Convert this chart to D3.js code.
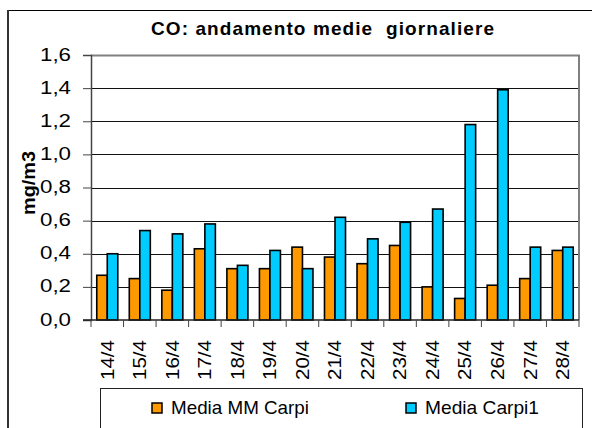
<!DOCTYPE html>
<html>
<head>
<meta charset="utf-8">
<script src="https://cdn.jsdelivr.net/npm/d3@7"></script>
<style>
  body { margin: 0; background: #fff; }
  svg { display: block; font-family: "Liberation Sans", Arial, sans-serif; }
</style>
</head>
<body>
<div id="chart"></div>
<script>
// data
const days = ["14/4","15/4","16/4","17/4","18/4","19/4","20/4","21/4","22/4","23/4","24/4","25/4","26/4","27/4","28/4"];
const mediaMMCarpi = [0.27,0.25,0.18,0.43,0.31,0.31,0.44,0.38,0.34,0.45,0.20,0.13,0.21,0.25,0.42];
const mediaCarpi1  = [0.40,0.54,0.52,0.58,0.33,0.42,0.31,0.62,0.49,0.59,0.67,1.18,1.39,0.44,0.44];
const seriesNames = ["Media MM Carpi","Media Carpi1"];
const seriesColors = ["#FF9900","#00CCFF"];
const yTicks = [0,0.2,0.4,0.6,0.8,1.0,1.2,1.4,1.6];

const W = 592, H = 428;
const plot = {left: 91, right: 579, top: 55, bottom: 320};

const svg = d3.select("#chart").append("svg")
    .attr("width", W)
    .attr("height", H);

// outer chart border
svg.append("line").attr("x1", 8).attr("x2", W).attr("y1", 10.5).attr("y2", 10.5)
    .attr("stroke", "#000").attr("stroke-width", 1);
svg.append("line").attr("x1", 8).attr("x2", 8).attr("y1", 10).attr("y2", H)
    .attr("stroke", "#333").attr("stroke-width", 2);

const xScale = d3.scaleBand().domain(days).range([plot.left, plot.right])
    .paddingInner(0.354).paddingOuter(0.177);
const xSub = d3.scaleBand().domain([0,1]).range([0, xScale.bandwidth()]);
const yScale = d3.scaleLinear().domain([0,1.6]).range([plot.bottom, plot.top]);
const step = (plot.right - plot.left) / days.length;

// gridlines
svg.append("g").selectAll("line")
    .data(yTicks.filter(v => v > 0 && v < 1.6))
    .join("line")
    .attr("x1", plot.left).attr("x2", plot.right)
    .attr("y1", d => Math.round(yScale(d)) + 0.5).attr("y2", d => Math.round(yScale(d)) + 0.5)
    .attr("stroke", "#111").attr("stroke-width", 1);

// plot frame top/right (gray)
svg.append("path")
    .attr("d", `M${plot.left},${plot.top + 0.5}H${plot.right}V${plot.bottom}`)
    .attr("fill", "none").attr("stroke", "#808080").attr("stroke-width", 2);

// bars
const groups = svg.append("g").selectAll("g")
    .data(days)
    .join("g")
    .attr("transform", d => `translate(${xScale(d)},0)`);
groups.selectAll("rect")
    .data((d, i) => [mediaMMCarpi[i], mediaCarpi1[i]])
    .join("rect")
    .attr("x", (d, j) => xSub(j))
    .attr("y", d => yScale(d))
    .attr("width", xSub.bandwidth())
    .attr("height", d => yScale(0) - yScale(d))
    .attr("fill", (d, j) => seriesColors[j])
    .attr("stroke", "#000")
    .attr("stroke-width", 1.6);

// y axis
const yAxis = svg.append("g")
    .attr("transform", `translate(${plot.left},0)`)
    .call(d3.axisLeft(yScale).tickValues(yTicks).tickSize(8).tickPadding(12)
        .tickFormat(d => d3.format(".1f")(d).replace(".", ",")));
yAxis.select(".domain").attr("stroke", "#444").attr("stroke-width", 1.5);
yAxis.selectAll(".tick line").attr("stroke", "#444");
yAxis.selectAll(".tick text")
    .attr("font-size", 18).attr("fill", "#000")
    .attr("font-family", "Liberation Sans, Arial, sans-serif")
    .attr("textLength", 31).attr("lengthAdjust", "spacingAndGlyphs")
    .attr("dy", "0.28em");

// x axis: baseline + ticks on category boundaries
svg.append("line")
    .attr("x1", plot.left - 8).attr("x2", plot.right)
    .attr("y1", plot.bottom).attr("y2", plot.bottom)
    .attr("stroke", "#222").attr("stroke-width", 1.5);
svg.append("g").selectAll("line")
    .data(d3.range(days.length + 1))
    .join("line")
    .attr("x1", i => plot.left + i * step).attr("x2", i => plot.left + i * step)
    .attr("y1", plot.bottom).attr("y2", plot.bottom + 7)
    .attr("stroke", "#444").attr("stroke-width", 1);

// x labels, rotated
svg.append("g").selectAll("text")
    .data(days)
    .join("text")
    .attr("transform", d => `translate(${xScale(d) + xScale.bandwidth() / 2 - 0.5},340) rotate(-90)`)
    .attr("text-anchor", "end")
    .attr("dy", "0.36em")
    .attr("font-size", 19)
    .attr("textLength", 40).attr("lengthAdjust", "spacingAndGlyphs")
    .text(d => d);

// title (double space kept as in the original)
svg.append("text")
    .attr("x", 151).attr("y", 35)
    .attr("font-size", 19).attr("font-weight", "bold")
    .style("white-space", "pre")
    .attr("textLength", 343).attr("lengthAdjust", "spacing")
    .text("CO: andamento medie  giornaliere");

// y axis title
svg.append("text")
    .attr("transform", "translate(35,183) rotate(-90)")
    .attr("text-anchor", "middle")
    .attr("font-size", 19).attr("font-weight", "bold")
    .attr("textLength", 64).attr("lengthAdjust", "spacingAndGlyphs")
    .text("mg/m3");

// legend
svg.append("rect")
    .attr("x", 100.5).attr("y", 388.5).attr("width", 482).attr("height", 60)
    .attr("fill", "#fff").attr("stroke", "#222").attr("stroke-width", 1);
const legendPos = [{sx: 152, tx: 171, tl: 138}, {sx: 406, tx: 425, tl: 114}];
const legend = svg.append("g").selectAll("g")
    .data(seriesNames)
    .join("g");
legend.append("rect")
    .attr("x", (d, i) => legendPos[i].sx).attr("y", 403)
    .attr("width", 10).attr("height", 10)
    .attr("fill", (d, i) => seriesColors[i])
    .attr("stroke", "#000").attr("stroke-width", 1.5);
legend.append("text")
    .attr("x", (d, i) => legendPos[i].tx).attr("y", 414)
    .attr("font-size", 19)
    .attr("textLength", (d, i) => legendPos[i].tl).attr("lengthAdjust", "spacingAndGlyphs")
    .text(d => d);
</script>
</body>
</html>
